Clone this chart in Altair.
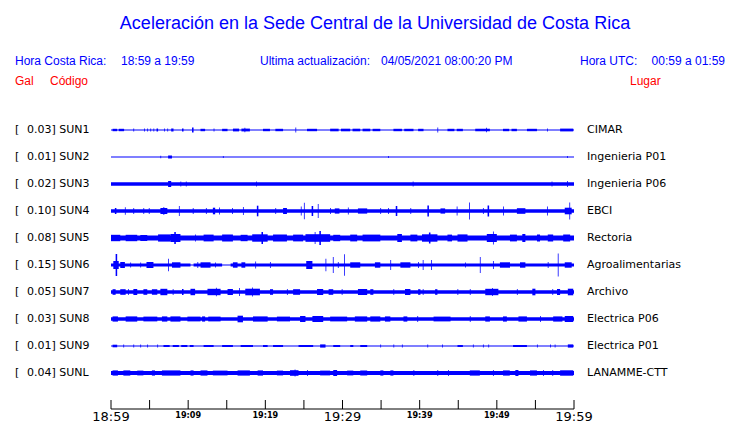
import altair as alt
import pandas as pd

# ---------------- data ----------------
stations = ["SUN1", "SUN2", "SUN3", "SUN4", "SUN5", "SUN6", "SUN7", "SUN8", "SUN9", "SUNL"]
peak_gal = ["0.03", "0.01", "0.02", "0.10", "0.08", "0.15", "0.05", "0.03", "0.01", "0.04"]
places = ["CIMAR", "Ingenieria P01", "Ingenieria P06", "EBCI", "Rectoria",
          "Agroalimentarias", "Archivo", "Electrica P06", "Electrica P01", "LANAMME-CTT"]
# half-width of the continuous background noise of each trace (trace units)
noise_floor = [0.5, 0.5, 1.8, 1.8, 2.6, 0.5, 1.8, 1.8, 0.5, 1.9]

# bursts: (start minute, end minute, half amplitude) ; minutes after 18:59
bursts_sun1 = [(0.2, 0.8, 1.2), (1.0, 1.7, 1.2), (2.9, 3.0, 1.5), (4.3, 4.4, 1.5), (4.7, 4.8, 1.5), (5.1, 5.2, 1.5),
               (5.5, 5.6, 1.5), (5.9, 6.1, 1.5), (6.9, 7.0, 1.5), (7.3, 7.4, 1.5), (7.8, 8.1, 1.5),
               (9.2, 9.4, 1.5), (10.5, 10.7, 2.5), (11.6, 12.2, 1.2), (13.3, 13.4, 1.5), (14.4, 15.1, 1.2),
               (15.8, 16.6, 1.4), (16.9, 18.0, 1.4), (17.3, 17.4, 2.2), (19.7, 20.6, 1.2), (21.3, 22.3, 1.2),
               (23.9, 24.0, 2.5), (25.4, 26.7, 1.2), (28.4, 29.5, 1.3), (29.8, 31.0, 1.3), (31.3, 32.3, 1.3),
               (32.6, 33.6, 1.3), (33.9, 34.9, 1.2), (36.6, 37.7, 1.2), (38.0, 39.2, 1.2), (39.8, 40.5, 1.2),
               (42.3, 42.4, 2.5), (43.6, 44.5, 1.2), (44.8, 45.6, 1.2), (47.2, 49.1, 1.3), (48.6, 48.7, 2.3),
               (50.8, 51.6, 1.2), (51.9, 52.6, 1.2), (53.9, 55.2, 1.2), (56.5, 56.6, 1.5), (58.2, 59.9, 1.4)]
bursts_sun2 = [(6.4, 6.5, 1.2), (7.4, 7.9, 1.5), (14.5, 14.6, 1.0), (35.9, 36.0, 1.0), (59.1, 59.2, 1.0)]
bursts_sun3 = [(7.4, 7.8, 3.0), (9.0, 9.1, 2.5), (9.7, 9.8, 2.5), (18.8, 18.9, 2.5), (39.1, 39.2, 2.5),
               (57.1, 57.2, 2.5), (59.1, 59.2, 3.0)]
bursts_sun4 = [(0.5, 0.7, 3.0), (1.8, 1.9, 3.7), (2.9, 3.0, 3.0), (4.2, 4.3, 3.0), (4.9, 5.0, 3.0),
               (6.4, 7.3, 3.0), (6.8, 6.9, 4.0), (8.8, 8.9, 5.0), (10.6, 10.7, 3.0), (12.3, 12.4, 3.0),
               (13.2, 13.5, 3.3), (14.0, 14.1, 3.5), (15.7, 15.8, 3.0), (17.1, 17.2, 4.0), (18.9, 19.1, 5.3),
               (21.3, 21.4, 3.0), (22.3, 22.8, 3.0), (24.6, 24.7, 4.5), (25.0, 25.1, 8.3), (26.0, 26.2, 5.0),
               (26.8, 26.9, 7.0), (28.4, 28.5, 3.0), (29.0, 29.6, 2.6), (30.7, 30.8, 3.5), (32.0, 33.2, 2.6),
               (34.9, 35.0, 3.0), (35.9, 36.0, 3.0), (36.9, 37.1, 5.0), (38.8, 38.9, 3.0), (41.0, 41.2, 5.5),
               (42.7, 43.3, 2.6), (44.8, 44.9, 4.5), (46.4, 46.5, 8.5), (48.2, 48.3, 3.0), (48.8, 49.0, 5.5),
               (50.8, 50.9, 4.5), (52.6, 53.7, 2.8), (56.5, 56.6, 4.5), (58.8, 59.7, 3.3), (59.4, 59.5, 8.5)]
bursts_sun5 = [(0.0, 1.2, 3.2), (1.9, 3.4, 3.2), (3.8, 4.7, 3.0), (6.1, 7.7, 3.6), (7.7, 9.0, 4.0),
               (8.2, 8.4, 6.0), (10.9, 11.0, 3.5), (12.0, 13.3, 3.4), (14.4, 15.8, 3.4), (16.8, 17.7, 3.2),
               (18.3, 20.3, 3.7), (19.5, 19.7, 6.0), (21.0, 22.8, 3.5), (23.6, 24.9, 3.4), (25.2, 28.4, 3.8),
               (26.4, 26.5, 6.0), (27.0, 27.2, 7.0), (28.8, 29.7, 3.2), (31.0, 31.9, 3.4), (32.6, 34.9, 3.4),
               (37.1, 37.7, 4.0), (38.8, 39.7, 3.4), (40.3, 42.3, 3.7), (41.2, 41.4, 5.5), (43.6, 44.2, 3.4),
               (44.9, 46.2, 3.6), (48.7, 50.0, 4.0), (49.5, 49.6, 6.5), (51.7, 52.6, 3.4), (53.3, 53.7, 4.0),
               (55.2, 55.6, 3.5), (56.6, 57.3, 3.5), (58.6, 59.5, 3.5)]
bursts_sun6 = [(0.0, 10.3, 1.5), (10.7, 14.4, 1.5), (15.5, 60.0, 1.5),
               (0.3, 1.0, 4.0), (0.6, 0.8, 11.0), (1.2, 1.8, 3.0), (2.5, 2.6, 2.5), (3.8, 3.9, 2.5),
               (4.6, 5.5, 3.0), (7.4, 7.5, 6.3), (7.9, 9.0, 2.7), (11.2, 11.3, 3.0), (11.6, 12.9, 2.7),
               (13.5, 13.6, 2.5), (15.8, 16.4, 2.7), (16.9, 17.4, 2.7), (18.7, 18.8, 3.5), (20.6, 20.7, 3.0),
               (25.3, 26.1, 4.0), (27.8, 27.9, 6.3), (28.75, 28.85, 8.0), (29.4, 29.5, 3.0), (30.2, 30.3, 10.7),
               (31.0, 32.3, 2.7), (34.2, 34.9, 2.7), (36.2, 36.3, 5.0), (37.5, 38.8, 2.7), (39.8, 39.9, 3.0),
               (40.4, 40.5, 5.0), (41.5, 41.6, 5.0), (45.9, 46.0, 2.5), (47.8, 47.9, 8.0), (49.5, 49.6, 4.0),
               (50.4, 51.7, 2.7), (53.0, 53.7, 2.7), (56.6, 56.7, 3.0), (57.9, 58.0, 11.5), (58.8, 59.7, 2.7)]
bursts_sun7 = [(0.2, 0.6, 2.8), (1.2, 1.9, 2.8), (2.2, 2.3, 3.0), (2.9, 3.4, 3.0), (4.2, 4.7, 2.8),
               (5.3, 6.0, 2.8), (6.4, 7.3, 3.2), (8.0, 8.1, 3.0), (9.2, 9.4, 3.0), (10.3, 10.9, 3.2),
               (12.5, 14.2, 3.2), (13.6, 13.7, 4.3), (15.1, 15.8, 3.0), (16.6, 16.7, 4.0), (17.4, 19.3, 3.3),
               (18.3, 18.4, 4.5), (20.6, 21.0, 2.8), (22.8, 22.9, 3.0), (23.6, 24.5, 2.8), (26.7, 27.5, 3.0),
               (28.2, 28.8, 2.8), (29.9, 30.0, 3.0), (32.0, 33.2, 3.0), (33.6, 34.0, 2.8), (36.6, 36.7, 3.0),
               (38.1, 38.8, 3.0), (39.8, 40.1, 2.8), (40.4, 40.5, 3.0), (42.0, 42.3, 2.8), (44.9, 45.0, 3.0),
               (46.5, 46.6, 3.0), (48.5, 50.2, 3.2), (49.4, 49.5, 4.0), (52.6, 52.7, 3.0), (54.6, 55.0, 3.3),
               (57.2, 57.3, 3.0), (57.8, 58.2, 3.0), (59.2, 59.9, 3.3)]
bursts_sun8 = [(0.2, 0.9, 2.6), (1.9, 3.4, 2.6), (4.2, 6.0, 2.4), (6.6, 7.3, 2.6), (7.7, 9.0, 2.6),
               (9.9, 11.6, 2.4), (11.8, 12.2, 2.6), (12.6, 14.2, 2.4), (16.4, 17.1, 3.3), (18.4, 20.3, 2.6),
               (21.5, 23.2, 2.4), (24.5, 25.2, 3.0), (26.1, 27.5, 3.0), (28.4, 30.6, 2.4), (31.6, 33.2, 2.6),
               (33.6, 34.9, 2.6), (35.5, 36.2, 2.6), (37.9, 38.4, 2.6), (39.7, 39.8, 3.0), (41.8, 44.0, 2.4),
               (46.5, 46.6, 3.0), (48.5, 49.1, 2.6), (50.8, 51.3, 2.6), (52.8, 53.9, 2.6), (55.6, 55.7, 3.0),
               (57.3, 58.5, 2.6), (58.8, 59.9, 3.0)]
bursts_sun9 = [(0.2, 0.8, 1.3), (1.6, 1.7, 1.5), (2.9, 3.0, 1.5), (3.8, 3.9, 1.5), (4.7, 4.8, 1.5),
               (6.0, 6.1, 1.5), (6.8, 7.6, 1.0), (8.0, 8.8, 1.0), (9.1, 9.9, 1.0), (10.2, 10.7, 1.0),
               (12.0, 13.3, 1.0), (14.4, 15.8, 1.0), (16.8, 18.4, 1.0), (19.7, 20.3, 1.0), (21.0, 22.3, 1.0),
               (24.3, 26.2, 1.0), (27.1, 27.8, 1.6), (28.8, 29.7, 1.0), (31.0, 31.4, 1.0), (32.3, 33.2, 1.0),
               (34.9, 35.0, 1.5), (36.6, 36.7, 1.5), (37.7, 37.8, 1.5), (41.0, 41.1, 1.5), (42.9, 43.0, 1.5),
               (44.9, 45.6, 1.0), (46.9, 47.0, 1.5), (48.2, 48.3, 1.5), (48.9, 49.0, 1.5), (52.1, 53.9, 1.0),
               (55.2, 55.3, 1.5), (56.9, 57.0, 1.5), (57.5, 57.6, 1.5), (59.2, 59.9, 1.6)]
bursts_sunl = [(0.2, 0.9, 2.6), (1.6, 2.5, 2.6), (3.4, 4.2, 2.4), (5.3, 5.7, 2.6), (6.6, 9.0, 2.6),
               (10.3, 10.7, 2.6), (11.6, 12.5, 2.6), (13.2, 15.1, 2.4), (16.4, 18.0, 2.6), (19.0, 19.7, 2.6),
               (21.5, 22.3, 2.4), (23.2, 24.3, 2.8), (23.8, 23.9, 3.5), (25.4, 25.5, 3.0), (27.1, 28.4, 2.4),
               (28.8, 29.3, 3.0), (30.6, 31.4, 2.4), (32.3, 33.2, 2.6), (34.9, 35.3, 2.6), (36.2, 36.6, 2.6),
               (39.2, 39.3, 3.0), (42.3, 42.4, 3.0), (43.7, 43.8, 3.0), (46.5, 47.8, 2.6), (49.5, 49.6, 3.0),
               (50.8, 51.7, 2.6), (52.4, 52.8, 3.0), (54.3, 55.2, 2.6), (56.0, 56.1, 3.0), (57.2, 57.3, 3.0),
               (58.2, 59.9, 2.7)]
all_bursts = [bursts_sun1, bursts_sun2, bursts_sun3, bursts_sun4, bursts_sun5,
              bursts_sun6, bursts_sun7, bursts_sun8, bursts_sun9, bursts_sunl]

tick_minutes = [0, 5, 10, 15, 20, 25, 30, 35, 40, 45, 50, 55, 60]
major_minutes = [0, 30, 60]
major_labels = ["18:59", "19:29", "19:59"]
minor_minutes = [10, 20, 40, 50]
minor_labels = ["19:09", "19:19", "19:39", "19:49"]

# ---------------- tables ----------------
ROW = 27  # vertical spacing between traces, in trace units
BLUE = "#0000ff"
RED = "#ff0000"

rows = []
for i, b in enumerate(noise_floor):
    rows.append(dict(x1=0.0, x2=60.0, lo=i * ROW - b, hi=i * ROW + b))
for i, lst in enumerate(all_bursts):
    for s, e, a in lst:
        rows.append(dict(x1=s, x2=e, lo=i * ROW - a, hi=i * ROW + a))
traces = pd.DataFrame(rows)

labels = pd.DataFrame(dict(
    y=[i * ROW for i in range(len(stations))],
    left=[f"{g}] {s}" for g, s in zip(peak_gal, stations)],
    place=places))

ticks = pd.DataFrame(dict(t=tick_minutes))
span = pd.DataFrame(dict(a=[tick_minutes[0]], b=[tick_minutes[-1]]))
majors = pd.DataFrame(dict(t=major_minutes, lab=major_labels))
minors = pd.DataFrame(dict(t=minor_minutes, lab=minor_labels))

xs = alt.Scale(domain=[0, 60], nice=False, zero=False)
ys = alt.Scale(domain=[-122, 279], nice=False, zero=False, reverse=True)

trace_layer = alt.Chart(traces).mark_rect(color=BLUE).encode(
    x=alt.X("x1:Q", scale=xs, axis=None), x2="x2:Q",
    y=alt.Y("lo:Q", scale=ys, axis=None), y2="hi:Q")

txt_font = "DejaVu Sans"
bracket = alt.Chart(labels).mark_text(align="left", baseline="middle", font=txt_font,
                                      fontSize=11, color="black", text="[").encode(
    x=alt.value(-96), y=alt.Y("y:Q", scale=ys, axis=None))
left_lab = alt.Chart(labels).mark_text(align="left", baseline="middle", font=txt_font,
                                       fontSize=11, color="black").encode(
    x=alt.value(-84), y=alt.Y("y:Q", scale=ys, axis=None), text="left:N")
right_lab = alt.Chart(labels).mark_text(align="left", baseline="middle", font=txt_font,
                                        fontSize=11, color="black").encode(
    x=alt.value(476), y=alt.Y("y:Q", scale=ys, axis=None), text="place:N")

# time axis drawn by hand (ticks point up from the axis line)
axis_line = alt.Chart(span).mark_rule(color="black", strokeWidth=1).encode(
    x=alt.X("a:Q", scale=xs, axis=None), x2="b:Q", y=alt.value(401))
tick_rules = alt.Chart(ticks).mark_rule(color="black", strokeWidth=1).encode(
    x=alt.X("t:Q", scale=xs, axis=None), y=alt.value(392), y2=alt.value(401))
major_text = alt.Chart(majors).mark_text(baseline="alphabetic", font="DejaVu Sans",
                                         fontSize=13, color="black").encode(
    x=alt.X("t:Q", scale=xs, axis=None), y=alt.value(413), text="lab:N")
minor_text = alt.Chart(minors).mark_text(baseline="alphabetic", font="DejaVu Sans Condensed",
                                         fontSize=9, fontWeight="bold", color="black").encode(
    x=alt.X("t:Q", scale=xs, axis=None), y=alt.value(410), text="lab:N")

# header texts
hfont = "Liberation Sans"
head_txt = ["Aceleración en la Sede Central de la Universidad de Costa Rica",
            "Hora Costa Rica:", "18:59 a 19:59", "Ultima actualización:", "04/05/2021 08:00:20 PM",
            "Hora UTC:", "00:59 a 01:59"]
head_x = [264, -96, 10, 149, 270, 469, 614]
head_y = [21, 57, 57, 57, 57, 57, 57]
head_size = [18, 12, 12, 12, 12, 12, 12]
head_align = ["center", "left", "left", "left", "left", "left", "right"]
red_txt = ["Gal", "Código", "Lugar"]
red_x = [-96, -61, 519]

layers = []
for s, x, y, fs, al in zip(head_txt, head_x, head_y, head_size, head_align):
    layers.append(alt.Chart(span).mark_text(align=al, baseline="alphabetic", font=hfont,
                                            fontSize=fs, color=BLUE, text=s).encode(
        x=alt.value(x), y=alt.value(y)))
for s, x in zip(red_txt, red_x):
    layers.append(alt.Chart(span).mark_text(align="left", baseline="alphabetic", font=hfont,
                                            fontSize=12, color=RED, text=s).encode(
        x=alt.value(x), y=alt.value(77)))

chart = alt.layer(trace_layer, bracket, left_lab, right_lab, axis_line, tick_rules,
                  major_text, minor_text, *layers).properties(
    width=463, height=401,
    autosize=alt.AutoSizeParams(type="none"),
    padding={"left": 103, "top": 0, "right": 158, "bottom": 14},
).configure(background="white", view=alt.ViewConfig(strokeWidth=0, stroke="transparent"))

chart.save("out.html", embed_options={"renderer": "svg", "actions": False})
